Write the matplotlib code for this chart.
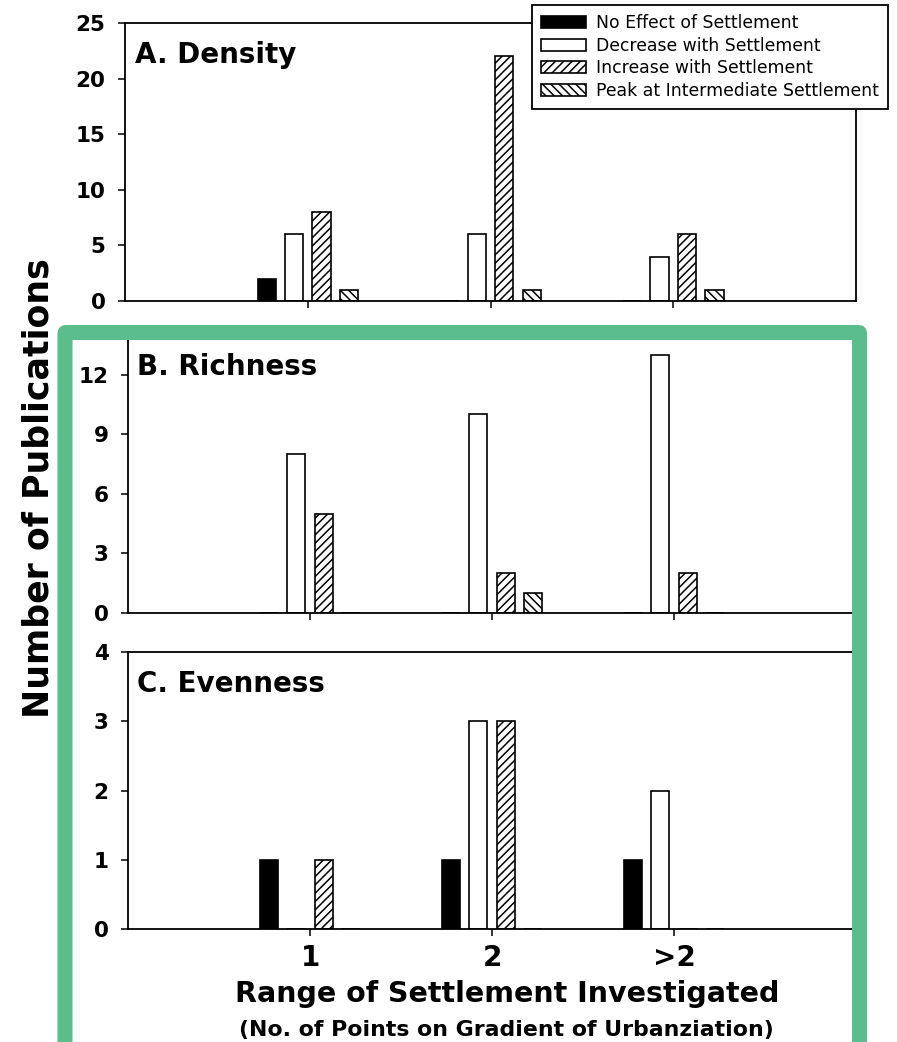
import matplotlib.pyplot as plt
import numpy as np
from matplotlib.patches import FancyBboxPatch

groups = ['1', '2', '>2']
series = ['No Effect of Settlement', 'Decrease with Settlement',
          'Increase with Settlement', 'Peak at Intermediate Settlement']

density_none = [2, 0, 0]
density_decrease = [6, 6, 4]
density_increase = [8, 22, 6]
density_peak = [1, 1, 1]

richness_none = [0, 0, 0]
richness_decrease = [8, 10, 13]
richness_increase = [5, 2, 2]
richness_peak = [0, 1, 0]

evenness_none = [1, 1, 1]
evenness_decrease = [0, 3, 2]
evenness_increase = [1, 3, 0]
evenness_peak = [0, 0, 0]

plt.rcParams['hatch.linewidth'] = 1.1
plt.rcParams['font.family'] = ['DejaVu Sans']

styles = [dict(facecolor='black', hatch=None),
          dict(facecolor='white', hatch=None),
          dict(facecolor='white', hatch='////'),
          dict(facecolor='white', hatch='\\\\\\\\')]
offsets = [-0.225, -0.075, 0.075, 0.225]
width = 0.1
x = np.arange(1, len(groups) + 1)


def panel(ax, values, title, yticks, ymax, show_xlabels):
    handles = []
    for vals, off, st, name in zip(values, offsets, styles, series):
        b = ax.bar(x + off, vals, width, edgecolor='black', linewidth=1.2,
                   label=name, **st)
        handles.append(b)
    ax.set_xlim(0, 4)
    ax.set_ylim(0, ymax)
    ax.set_yticks(yticks)
    ax.set_xticks(x)
    if show_xlabels:
        ax.set_xticklabels(groups, fontsize=20, fontweight='bold')
    else:
        ax.set_xticklabels([])
    ax.tick_params(axis='y', length=5, width=1.1, pad=9, labelsize=15.5)
    ax.tick_params(axis='x', length=5, width=1.1, pad=6)
    for lab in ax.get_yticklabels():
        lab.set_fontweight('bold')
    for sp in ax.spines.values():
        sp.set_linewidth(1.3)
    ax.text(0.013, 0.855, title, transform=ax.transAxes, fontsize=20,
            fontweight='bold', va='baseline', ha='left')
    return handles


fig = plt.figure(figsize=(8.97, 10.42), dpi=100)
axA = fig.add_axes([0.1394, 0.7111, 0.8149, 0.2668])
axB = fig.add_axes([0.1427, 0.4117, 0.8116, 0.2668])
axC = fig.add_axes([0.1427, 0.1084, 0.8116, 0.2658])

handles = panel(axA, [density_none, density_decrease, density_increase, density_peak],
                'A. Density', [0, 5, 10, 15, 20, 25], 25, False)
panel(axB, [richness_none, richness_decrease, richness_increase, richness_peak],
      'B. Richness', [0, 3, 6, 9, 12], 14, False)
panel(axC, [evenness_none, evenness_decrease, evenness_increase, evenness_peak],
      'C. Evenness', [0, 1, 2, 3, 4], 4, True)

leg = fig.legend(handles, series, loc='upper left',
                 bbox_to_anchor=(532 / 897, 1 - 5 / 1042),
                 fontsize=12.4, handlelength=2.6, handleheight=0.7,
                 handletextpad=0.55, labelspacing=0.26, borderpad=0.55,
                 borderaxespad=0, fancybox=False, framealpha=1,
                 edgecolor='black')
leg.get_frame().set_linewidth(1.3)

fig.text(39 / 897, 1 - 488 / 1042, 'Number of Publications', rotation=90,
         fontsize=25, fontweight='bold', ha='center', va='center')
fig.text(507 / 897, 1 - 1002 / 1042, 'Range of Settlement Investigated',
         fontsize=20.5, fontweight='bold', ha='center', va='baseline')
fig.text(506 / 897, 1 - 1036 / 1042, '(No. of Points on Gradient of Urbanziation)',
         fontsize=15.8, fontweight='bold', ha='center', va='baseline')

# green highlight frame around panels B and C
frame = FancyBboxPatch((0.65, -0.5), 7.945, 7.595,
                       boxstyle='round,pad=0,rounding_size=0.005',
                       transform=fig.dpi_scale_trans, fill=False,
                       edgecolor='#5BBD8B', linewidth=10.8, joinstyle='round',
                       zorder=10)
fig.add_artist(frame)

fig.savefig('out.png', dpi=100)
